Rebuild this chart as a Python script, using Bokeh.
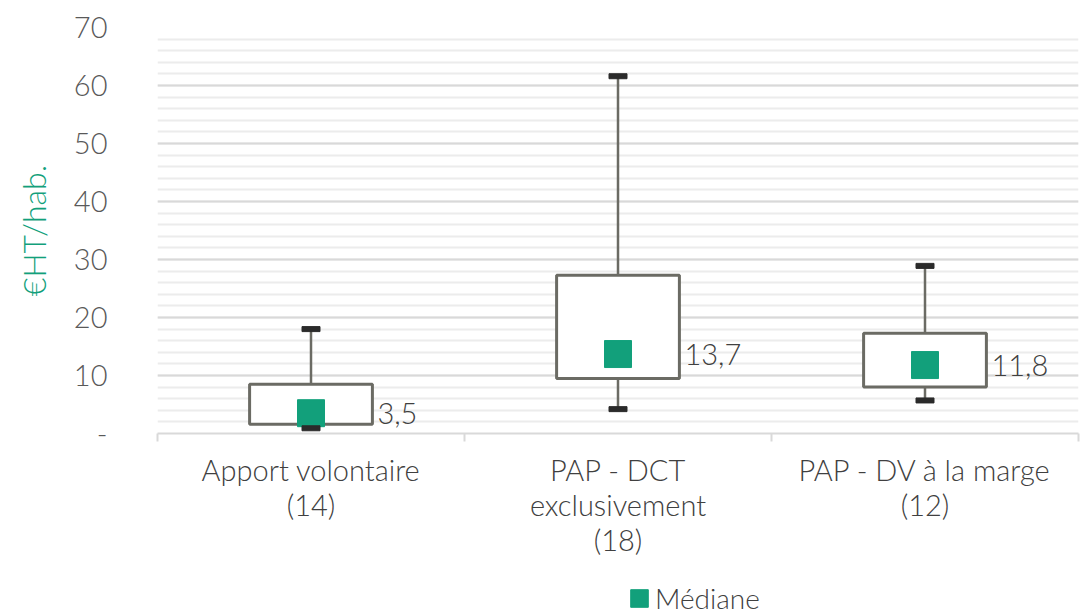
from bokeh.plotting import figure
from bokeh.layouts import column
from bokeh.models import (Range1d, FixedTicker, SingleIntervalTicker, Legend, LegendItem,
                          ColumnDataSource)
from bokeh.core.properties import value
from bokeh.embed import file_html
from bokeh.resources import INLINE

categories = ["Apport volontaire\n(14)", "PAP - DCT\nexclusivement\n(18)", "PAP - DV à la marge\n(12)"]
whisker_low = [0.9, 4.2, 5.7]
box_low = [1.6, 9.5, 8.0]
median = [3.5, 13.7, 11.8]
box_high = [8.5, 27.3, 17.3]
whisker_high = [18.0, 61.6, 28.9]
median_labels = ["3,5", "13,7", "11,8"]

FONT = "Lato Light"
GREEN = "#12a07b"
BOXC = "#6b6b64"

xc = [i + 0.5 for i in range(len(categories))]
src = ColumnDataSource(dict(x=xc, wl=whisker_low, bl=box_low, med=median, bh=box_high,
                            wh=whisker_high, left=[v - 0.2 for v in xc], right=[v + 0.2 for v in xc],
                            lab=median_labels))

p = figure(width=1080, height=570, output_backend="svg", toolbar_location=None,
           x_range=Range1d(0, 3), y_range=Range1d(0, 70),
           min_border_left=157, min_border_right=2, min_border_top=27, min_border_bottom=137)
p.outline_line_color = None
p.background_fill_color = "white"
p.border_fill_color = "white"

# grid
p.xgrid.grid_line_color = None
p.yaxis.ticker = SingleIntervalTicker(interval=10, num_minor_ticks=5)
p.ygrid.grid_line_color = "#d9d9d9"
p.ygrid.grid_line_width = 2
p.ygrid.minor_grid_line_color = "#ececec"
p.ygrid.minor_grid_line_width = 2

# y axis
p.yaxis.axis_line_color = None
p.yaxis.major_tick_line_color = None
p.yaxis.minor_tick_line_color = None
p.yaxis.major_label_overrides = {0: "-"}
p.yaxis.major_label_text_font = FONT
p.yaxis.major_label_text_font_size = "29px"
p.yaxis.major_label_text_color = "#595959"
p.yaxis.major_label_standoff = 44
p.yaxis.axis_label = "€HT/hab."
p.yaxis.axis_label_text_font = FONT
p.yaxis.axis_label_text_font_size = "32px"
p.yaxis.axis_label_text_font_style = "normal"
p.yaxis.axis_label_text_color = GREEN
p.yaxis.axis_label_standoff = 18

# x axis
p.xaxis.ticker = FixedTicker(ticks=xc, minor_ticks=[0, 1, 2, 3])
p.xaxis.major_label_overrides = {v: c for v, c in zip(xc, categories)}
p.xaxis.axis_line_color = "#d9d9d9"
p.xaxis.axis_line_width = 2
p.xaxis.major_tick_line_color = None
p.xaxis.minor_tick_line_color = "#d9d9d9"
p.xaxis.minor_tick_line_width = 2
p.xaxis.minor_tick_out = 8
p.xaxis.minor_tick_in = 0
p.xaxis.major_label_text_font = FONT
p.xaxis.major_label_text_font_size = "29px"
p.xaxis.major_label_text_color = "#404040"
p.xaxis.major_label_text_line_height = 1.0
p.xaxis.major_label_standoff = 10

# whiskers
p.segment(x0="x", y0="bh", x1="x", y1="wh", source=src, line_color=BOXC, line_width=2.5)
p.segment(x0="x", y0="wl", x1="x", y1="bl", source=src, line_color=BOXC, line_width=2.5)
# boxes
p.quad(left="left", right="right", bottom="bl", top="bh", source=src,
       fill_color="white", line_color=BOXC, line_width=3)
# medians
p.rect(x="x", y="med", width=27, height=27, width_units="screen", height_units="screen",
       source=src, fill_color=GREEN, line_color=GREEN, line_width=1)
# caps
p.rect(x="x", y="wh", width=18, height=5, width_units="screen", height_units="screen",
       source=src, fill_color="#2b2b2b", line_color="#2b2b2b")
p.rect(x="x", y="wl", width=18, height=5, width_units="screen", height_units="screen",
       source=src, fill_color="#2b2b2b", line_color="#2b2b2b")
# median labels
p.text(x="right", y="med", text="lab", source=src, x_offset=5,
       text_font=value(FONT), text_font_size="29px", text_color="#404040",
       text_baseline="middle", text_align="left")

# legend strip
p2 = figure(width=1080, height=45, output_backend="svg", toolbar_location=None,
            x_range=Range1d(0, 1), y_range=Range1d(0, 1), x_axis_type=None, y_axis_type=None,
            min_border=0)
p2.outline_line_color = None
p2.grid.visible = False
leg_r = p2.rect(x=[-10], y=[-10], width=27, height=27, width_units="screen", height_units="screen",
                fill_color=GREEN, line_color=GREEN, line_width=1)
legend = Legend(items=[LegendItem(label="Médiane", renderers=[leg_r])],
                location=(471, 0), orientation="horizontal",
                label_text_font=FONT, label_text_font_size="28px", label_text_color="#404040",
                glyph_width=22, glyph_height=22, label_standoff=5, padding=0, margin=0,
                border_line_color=None, background_fill_alpha=0)
p2.add_layout(legend, "center")

layout = column(p, p2, spacing=0)
open("out.html", "w").write(file_html(layout, INLINE))
